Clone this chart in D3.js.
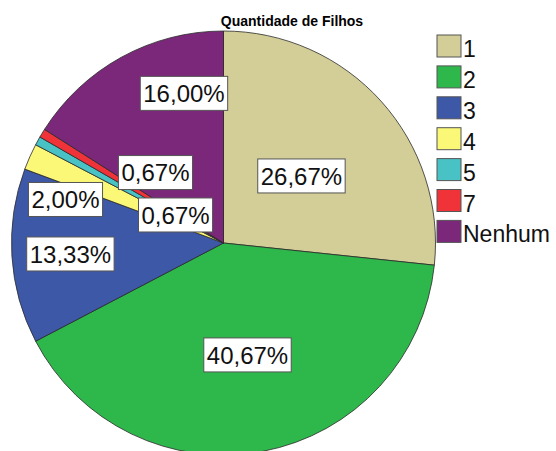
<!doctype html>
<html>
<head>
<meta charset="utf-8">
<style>
  body { margin: 0; background: #fff; }
  text { font-family: "Liberation Sans", Arial, sans-serif; }
</style>
<script src="https://d3js.org/d3.v7.min.js"></script>
</head>
<body>
<svg width="556" height="451"></svg>
<script>
// dados: quantidade de filhos (n = 150)
var categories = ["1", "2", "3", "4", "5", "7", "Nenhum"];
var counts = [40, 61, 20, 3, 1, 1, 24];
var percentLabels = ["26,67%", "40,67%", "13,33%", "2,00%", "0,67%", "0,67%", "16,00%"];
var colors = ["#d3ce97", "#2eb84b", "#3e58a8", "#fbf877", "#48c2c5", "#ef3339", "#7b287b"];

// onde o SPSS colocou cada rótulo (ângulo em graus, fração do raio)
var labelAngle = [49.3, 167.9, 265.9, 285.4, 300.3, 316, 345.2];
var labelRadius = [0.485, 0.54, 0.724, 0.773, 0.262, 0.462, 0.73];

var svg = d3.select("svg"),
    cx = 223.5, cy = 243, r = 212;

svg.append("text")
   .attr("x", 292)
   .attr("y", 26)
   .attr("text-anchor", "middle")
   .attr("font-size", "14px")
   .attr("font-weight", "bold")
   .text("Quantidade de Filhos");

var pie = d3.pie().sort(null).value(function(d) { return d; });
var arc = d3.arc().innerRadius(0).outerRadius(r);

var g = svg.append("g").attr("transform", "translate(" + cx + "," + cy + ")");

g.selectAll("path")
 .data(pie(counts))
 .enter().append("path")
 .attr("d", arc)
 .attr("fill", function(d, i) { return colors[i]; })
 .attr("stroke", "#2a2a2a")
 .attr("stroke-width", 0.8);

// rótulos com caixa branca
var labels = g.selectAll(".lbl")
  .data(percentLabels)
  .enter().append("g")
  .attr("class", "lbl")
  .attr("transform", function(d, i) {
      var a = labelAngle[i] * Math.PI / 180, k = labelRadius[i] * r;
      return "translate(" + (Math.sin(a) * k) + "," + (-Math.cos(a) * k) + ")";
  });

labels.append("rect");
labels.append("text")
  .attr("text-anchor", "middle")
  .attr("dy", "0.36em")
  .attr("font-size", "24px")
  .attr("fill", "#111")
  .text(function(d) { return d; });

labels.each(function() {
  var s = d3.select(this);
  var bb = s.select("text").node().getBBox();
  s.select("rect")
   .attr("x", bb.x - 3)
   .attr("y", -17)
   .attr("width", bb.width + 6)
   .attr("height", 34)
   .attr("fill", "#fff")
   .attr("stroke", "#555")
   .attr("stroke-width", 1);
});

// legenda
var legend = svg.append("g").attr("transform", "translate(437,35)");
var rows = legend.selectAll("g")
  .data(categories)
  .enter().append("g")
  .attr("transform", function(d, i) { return "translate(0," + (i * 30.9) + ")"; });

rows.append("rect")
  .attr("width", 24)
  .attr("height", 22)
  .attr("fill", function(d, i) { return colors[i]; })
  .attr("stroke", "#555")
  .attr("stroke-width", 1);

rows.append("text")
  .attr("x", 26)
  .attr("y", 22)
  .attr("font-size", "23px")
  .attr("fill", "#111")
  .text(function(d) { return d; });
</script>
</body>
</html>
